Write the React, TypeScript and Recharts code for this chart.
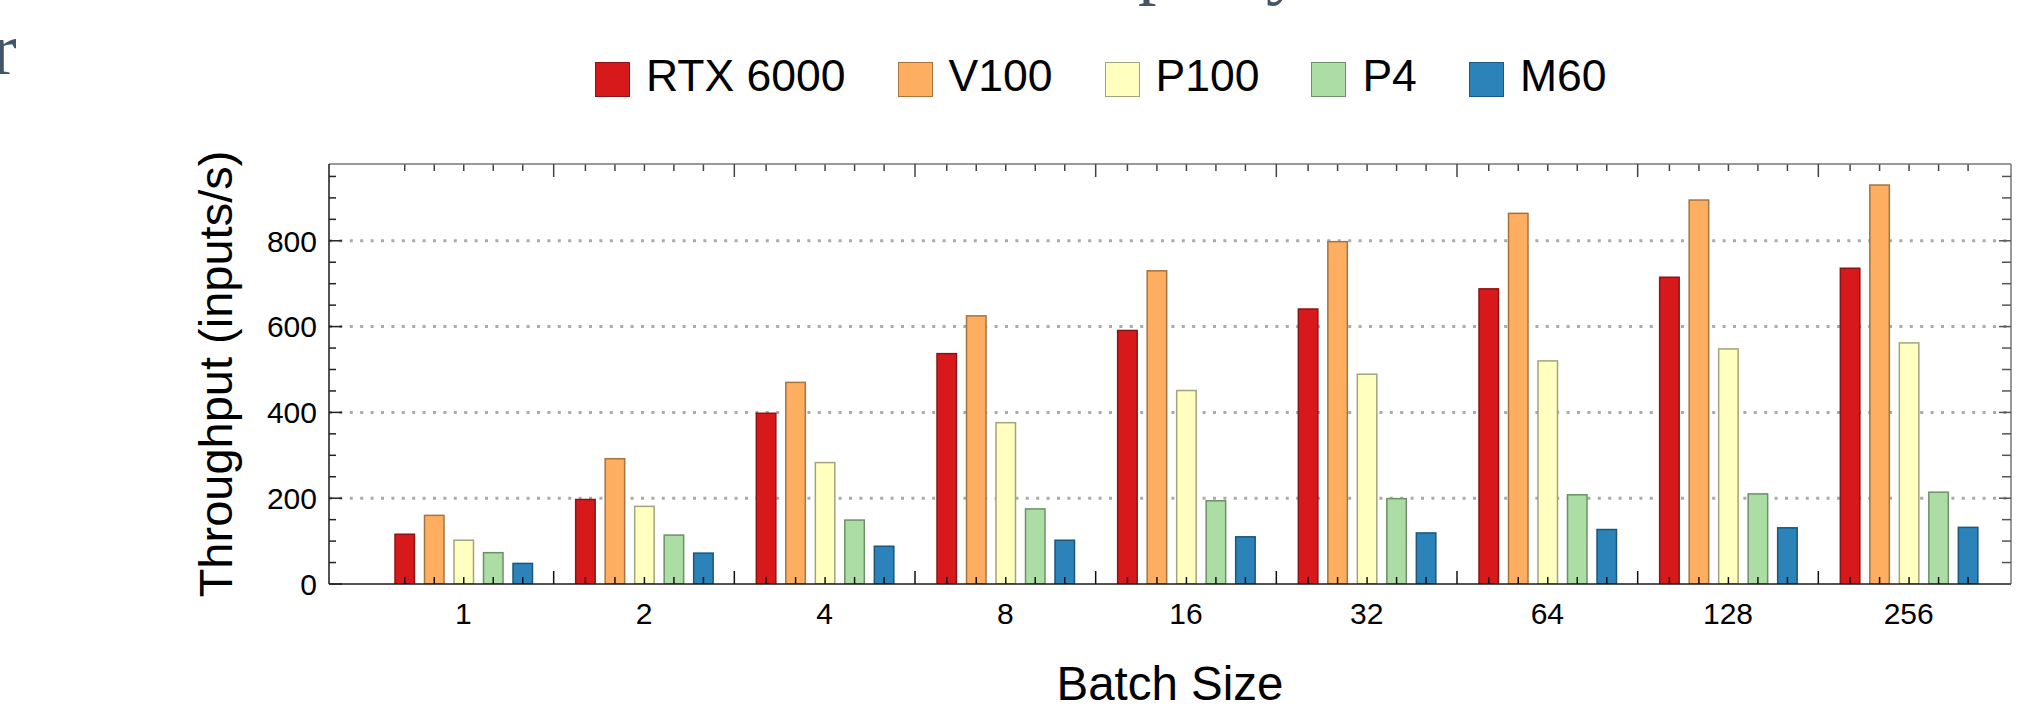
import { BarChart, Bar, XAxis, YAxis, CartesianGrid, Legend } from 'recharts';

// throughput (inputs/s) per batch size
const batchSizes = ['1', '2', '4', '8', '16', '32', '64', '128', '256'];
const rtx6000 = [116, 197, 398, 537, 591, 641, 688, 715, 736];
const v100 = [160, 292, 470, 625, 730, 798, 864, 895, 930];
const p100 = [102, 181, 283, 376, 451, 489, 520, 548, 562];
const p4 = [73, 114, 149, 175, 194, 199, 208, 210, 214];
const m60 = [48, 72, 88, 102, 110, 119, 127, 131, 132];

const gpuNames = ['RTX 6000', 'V100', 'P100', 'P4', 'M60'];
const gpuSeries = [rtx6000, v100, p100, p4, m60];
const gpuFills = ['#d7191c', '#fdae61', '#ffffbf', '#abdda4', '#2b83ba'];
const gpuEdges = ['#8a1517', '#a5743f', '#a3a37c', '#6e8f69', '#1d5779'];

const yTicks = [0, 50, 100, 150, 200, 250, 300, 350, 400, 450, 500, 550, 600, 650, 700, 750, 800, 850, 900, 950];
const yLabelled = [0, 200, 400, 600, 800];
const gridValues = [200, 400, 600, 800];
const yMax = 979;

const rows = batchSizes.map((batch, i) => {
  const row: Record<string, string | number> = { batch };
  gpuNames.forEach((name, k) => {
    row[name] = gpuSeries[k][i];
  });
  return row;
});

const SANS = '"Liberation Sans", Arial, sans-serif';
const SERIF = '"Liberation Serif", "Times New Roman", serif';

function GpuBar(props: any) {
  const { x, y, width, height, background, fill, edge } = props;
  const cx = x + width / 2;
  const bottom = background ? background.y + background.height : y + height;
  return (
    <g>
      <rect x={x} y={y} width={width} height={height} fill={fill} stroke={edge} strokeWidth={1.5} />
      <line x1={cx} x2={cx} y1={bottom} y2={bottom - 7} stroke="#111" strokeWidth={1.5} />
      {background && (
        <line x1={cx} x2={cx} y1={background.y} y2={background.y + 7} stroke="#444" strokeWidth={1.5} />
      )}
    </g>
  );
}

function BatchTick(props: any) {
  const { x, y, payload, index } = props;
  const half = payload.offset ?? 0;
  return (
    <g>
      {index < batchSizes.length - 1 && (
        <line x1={x + half} x2={x + half} y1={y} y2={y - 13} stroke="#111" strokeWidth={1.5} />
      )}
      <text x={x} y={y + 40} textAnchor="middle" fontSize={30} fontFamily={SANS} fill="#000">
        {payload.value}
      </text>
    </g>
  );
}

function TopTick(props: any) {
  const { x, y, payload, index } = props;
  const half = payload.offset ?? 0;
  if (index >= batchSizes.length - 1) return <g />;
  return <line x1={x + half} x2={x + half} y1={y} y2={y + 13} stroke="#444" strokeWidth={1.5} />;
}

function LeftTick(props: any) {
  const { x, y, payload } = props;
  const major = yLabelled.includes(payload.value);
  return (
    <g>
      <line x1={x} x2={x + (major ? 13 : 7)} y1={y} y2={y} stroke="#222" strokeWidth={1.5} />
      {major && (
        <text x={x - 12} y={y} dy="0.36em" textAnchor="end" fontSize={30} fontFamily={SANS} fill="#000">
          {payload.value}
        </text>
      )}
    </g>
  );
}

function RightTick(props: any) {
  const { x, y, payload } = props;
  const major = yLabelled.includes(payload.value);
  return <line x1={x} x2={x - (major ? 12 : 9)} y1={y} y2={y} stroke="#555" strokeWidth={1.5} />;
}

function renderLegend() {
  return (
    <div style={{ display: 'flex', alignItems: 'center', whiteSpace: 'nowrap', fontFamily: SANS, fontSize: 44.5, lineHeight: 1, color: '#000' }}>
      {gpuNames.map((name, i) => (
        <div key={name} style={{ display: 'flex', alignItems: 'center', marginRight: i < gpuNames.length - 1 ? 52 : 0 }}>
          <span
            style={{
              display: 'inline-block',
              boxSizing: 'border-box',
              width: 35,
              height: 35,
              background: gpuFills[i],
              border: `1.5px solid ${gpuEdges[i]}`,
              marginRight: 16,
            }}
          />
          <span style={{ position: 'relative', top: -3 }}>{name}</span>
        </div>
      ))}
    </div>
  );
}

function yTitle(props: any) {
  const vb = props.viewBox;
  const cx = vb.x + vb.width - 114;
  const cy = vb.y + vb.height / 2;
  return (
    <text x={cx} y={cy} dy="0.36em" transform={`rotate(-90 ${cx} ${cy})`} textAnchor="middle" fontSize={47} fontFamily={SANS} fill="#000">
      Throughput (inputs/s)
    </text>
  );
}

function xTitle(props: any) {
  const vb = props.viewBox;
  return (
    <text x={vb.x + vb.width / 2} y={vb.y + 116} textAnchor="middle" fontSize={47.5} fontFamily={SANS} fill="#000">
      Batch Size
    </text>
  );
}

export default function App() {
  return (
    <div style={{ position: 'absolute', left: 0, top: 0, width: 2020, height: 713, overflow: 'hidden', background: '#fff' }}>
      {/* fragments of the surrounding page heading, cut off by the crop */}
      <span style={{ position: 'absolute', left: -8, top: 12, fontFamily: SERIF, fontSize: 74, lineHeight: 1, color: '#41566b' }}>r</span>
      <span style={{ position: 'absolute', left: 1138, top: -72, fontFamily: SERIF, fontSize: 74, lineHeight: 1, color: '#41566b' }}>p</span>
      <span style={{ position: 'absolute', left: 1266, top: -72, fontFamily: SERIF, fontSize: 74, lineHeight: 1, color: '#41566b' }}>y</span>

      <BarChart
        width={2020}
        height={713}
        data={rows}
        margin={{ top: 163, right: 0, bottom: 0, left: 0 }}
        barSize={19.5}
        barGap={10}
      >
        <CartesianGrid
          horizontal
          vertical={false}
          horizontalValues={gridValues}
          stroke="#aaaaaa"
          strokeWidth={3}
          strokeDasharray="3 7.4"
        />
        <XAxis
          dataKey="batch"
          height={129}
          padding={{ left: 44, right: 12 }}
          interval={0}
          tickSize={0}
          tickMargin={0}
          tickLine={false}
          tick={<BatchTick />}
          axisLine={{ stroke: '#1a1a1a', strokeWidth: 1.5 }}
          label={xTitle}
        />
        <XAxis
          xAxisId="top"
          dataKey="batch"
          orientation="top"
          height={1}
          padding={{ left: 44, right: 12 }}
          interval={0}
          tickSize={0}
          tickMargin={0}
          tickLine={false}
          tick={<TopTick />}
          axisLine={{ stroke: '#777', strokeWidth: 1.5 }}
        />
        <YAxis
          width={329}
          domain={[0, yMax]}
          ticks={yTicks}
          interval={0}
          allowDataOverflow
          tickSize={0}
          tickMargin={0}
          tickLine={false}
          tick={<LeftTick />}
          axisLine={{ stroke: '#1a1a1a', strokeWidth: 1.5 }}
          label={yTitle}
        />
        <YAxis
          yAxisId="right"
          orientation="right"
          width={9}
          domain={[0, yMax]}
          ticks={yTicks}
          interval={0}
          allowDataOverflow
          tickSize={0}
          tickMargin={0}
          tickLine={false}
          tick={<RightTick />}
          axisLine={{ stroke: '#777', strokeWidth: 1.5 }}
        />
        <Legend
          layout="vertical"
          align="center"
          verticalAlign="middle"
          content={renderLegend}
          wrapperStyle={{ top: 57, left: 595, width: 'auto' }}
        />
        {gpuNames.map((name, i) => (
          <Bar
            key={name}
            dataKey={name}
            fill={gpuFills[i]}
            isAnimationActive={false}
            shape={(p: any) => <GpuBar {...p} fill={gpuFills[i]} edge={gpuEdges[i]} />}
          />
        ))}
      </BarChart>
    </div>
  );
}
